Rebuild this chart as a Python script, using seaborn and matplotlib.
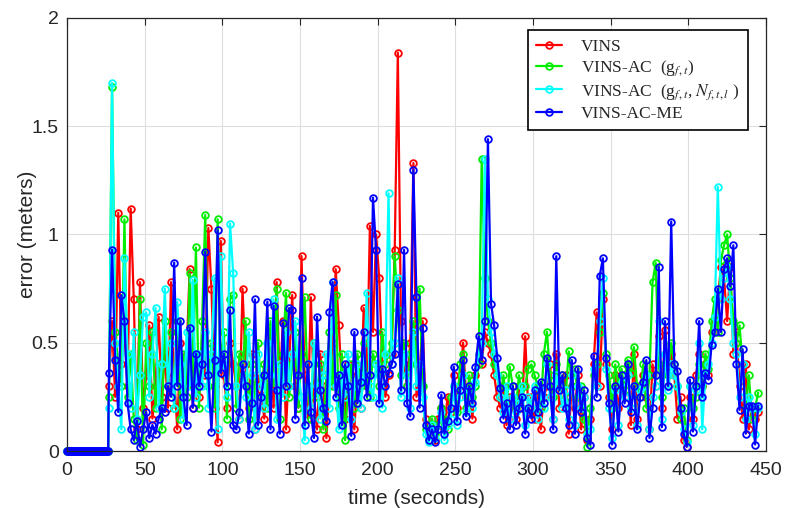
import numpy as np
import pandas as pd
import matplotlib
matplotlib.use("Agg")
import matplotlib.pyplot as plt
import seaborn as sns

# ---------------- data ----------------
methods = ["VINS", "VINS-AC  (g$_{f,t}$)", "VINS-AC  (g$_{f,t}$, $N_{f,t,l}$ )", "VINS-AC-ME"]
colors = ["#ff0000", "#00ee00", "#00ffff", "#0000ff"]

t_init = np.arange(0, 27, 0.5)          # initialisation phase (error = 0)
err_init = [0.0] * len(t_init)
t_run = np.arange(27, 446, 2)            # sampled run times (seconds)

err_vins = [
    0.30, 0.60, 0.25, 1.10, 0.40, 0.55, 0.30, 1.12, 0.70, 0.10,
    0.78, 0.20, 0.35, 0.58, 0.15, 0.30, 0.62, 0.25, 0.45, 0.20,
    0.78, 0.35, 0.10, 0.50, 0.30, 0.45, 0.84, 0.20, 0.40, 0.25,
    0.45, 0.35, 1.03, 0.75, 0.30, 0.04, 0.97, 0.35, 0.20, 0.50,
    0.40, 0.30, 0.15, 0.75, 0.40, 0.20, 0.45, 0.10, 0.35, 0.28,
    0.15, 0.40, 0.55, 0.20, 0.78, 0.30, 0.60, 0.10, 0.40, 0.72,
    0.30, 0.20, 0.90, 0.35, 0.15, 0.71, 0.25, 0.10, 0.45, 0.30,
    0.06, 0.30, 0.50, 0.84, 0.58, 0.30, 0.15, 0.40, 0.25, 0.10,
    0.35, 0.20, 0.66, 0.30, 1.04, 0.55, 1.00, 0.80, 0.40, 0.25,
    0.35, 0.45, 0.93, 1.84, 0.60, 0.40, 0.30, 0.50, 1.33, 0.25,
    0.35, 0.60, 0.15, 0.08, 0.12, 0.05, 0.15, 0.20, 0.10, 0.25,
    0.18, 0.35, 0.20, 0.30, 0.50, 0.25, 0.30, 0.15, 0.35, 0.45,
    0.40, 0.55, 0.50, 0.45, 0.35, 0.25, 0.20, 0.30, 0.12, 0.25,
    0.20, 0.15, 0.30, 0.20, 0.53, 0.18, 0.25, 0.15, 0.30, 0.10,
    0.25, 0.30, 0.40, 0.15, 0.45, 0.20, 0.30, 0.35, 0.08, 0.30,
    0.20, 0.35, 0.10, 0.25, 0.05, 0.15, 0.40, 0.64, 0.30, 0.70,
    0.40, 0.25, 0.10, 0.35, 0.20, 0.30, 0.25, 0.40, 0.12, 0.45,
    0.15, 0.30, 0.35, 0.25, 0.10, 0.40, 0.30, 0.53, 0.20, 0.56,
    0.30, 0.45, 0.35, 0.15, 0.25, 0.05, 0.02, 0.25, 0.15, 0.35,
    0.45, 0.30, 0.40, 0.35, 0.55, 0.60, 0.70, 0.85, 0.80, 0.60,
    0.85, 0.45, 0.55, 0.30, 0.15, 0.40, 0.10, 0.20, 0.15, 0.18,
]

err_vins_ac = [
    0.25, 1.68, 0.55, 0.40, 0.30, 1.07, 0.25, 0.45, 0.15, 0.05,
    0.70, 0.03, 0.50, 0.30, 0.55, 0.20, 0.40, 0.10, 0.60, 0.30,
    0.55, 0.20, 0.60, 0.15, 0.45, 0.25, 0.82, 0.30, 0.94, 0.20,
    0.60, 1.09, 0.30, 0.50, 0.20, 1.07, 0.40, 0.55, 0.15, 0.70,
    0.72, 0.20, 0.45, 0.35, 0.60, 0.15, 0.40, 0.25, 0.50, 0.30,
    0.40, 0.20, 0.60, 0.30, 0.75, 0.15, 0.45, 0.73, 0.25, 0.40,
    0.55, 0.20, 0.45, 0.71, 0.30, 0.15, 0.50, 0.25, 0.40, 0.10,
    0.35, 0.55, 0.30, 0.72, 0.20, 0.45, 0.05, 0.30, 0.40, 0.20,
    0.45, 0.30, 0.50, 0.35, 0.25, 0.45, 0.40, 0.30, 0.55, 0.40,
    0.45, 0.50, 0.90, 0.65, 0.35, 0.50, 0.30, 0.45, 0.60, 0.40,
    0.75, 0.30, 0.10, 0.05, 0.15, 0.08, 0.12, 0.20, 0.15, 0.10,
    0.25, 0.30, 0.18, 0.40, 0.45, 0.20, 0.35, 0.25, 0.30, 0.40,
    1.35, 0.80, 0.60, 0.50, 0.40, 0.35, 0.25, 0.35, 0.20, 0.39,
    0.30, 0.20, 0.35, 0.25, 0.30, 0.38, 0.40, 0.35, 0.30, 0.20,
    0.45, 0.55, 0.35, 0.25, 0.40, 0.30, 0.35, 0.25, 0.46, 0.30,
    0.38, 0.25, 0.30, 0.15, 0.02, 0.20, 0.35, 0.40, 0.55, 0.73,
    0.45, 0.35, 0.20, 0.40, 0.30, 0.38, 0.28, 0.42, 0.36, 0.48,
    0.30, 0.25, 0.40, 0.20, 0.35, 0.78, 0.87, 0.40, 0.25, 0.45,
    0.35, 0.50, 0.40, 0.30, 0.15, 0.20, 0.05, 0.30, 0.20, 0.25,
    0.40, 0.30, 0.45, 0.38, 0.60, 0.70, 0.55, 0.88, 0.95, 1.00,
    0.80, 0.60, 0.50, 0.58, 0.40, 0.20, 0.35, 0.15, 0.20, 0.27,
]

err_vins_ac_n = [
    0.20, 1.70, 0.50, 0.30, 0.10, 0.89, 0.45, 0.20, 0.55, 0.15,
    0.35, 0.62, 0.64, 0.25, 0.45, 0.66, 0.20, 0.40, 0.75, 0.30,
    0.50, 0.20, 0.69, 0.40, 0.15, 0.55, 0.30, 0.79, 0.25, 0.45,
    0.30, 0.55, 0.20, 0.45, 0.80, 0.10, 0.90, 0.40, 0.25, 1.05,
    0.82, 0.30, 0.15, 0.40, 0.25, 0.55, 0.35, 0.10, 0.45, 0.30,
    0.20, 0.50, 0.35, 0.70, 0.15, 0.40, 0.25, 0.55, 0.30, 0.45,
    0.60, 0.35, 0.25, 0.05, 0.40, 0.20, 0.50, 0.30, 0.15, 0.35,
    0.45, 0.20, 0.78, 0.30, 0.10, 0.35, 0.25, 0.45, 0.15, 0.30,
    0.40, 0.20, 0.35, 0.73, 0.30, 0.25, 0.40, 0.35, 0.20, 0.45,
    1.19, 0.40, 0.50, 0.80, 0.25, 0.45, 0.35, 0.20, 0.55, 0.30,
    0.40, 0.25, 0.08, 0.04, 0.12, 0.06, 0.10, 0.18, 0.05, 0.12,
    0.15, 0.30, 0.12, 0.25, 0.35, 0.18, 0.28, 0.20, 0.32, 0.45,
    0.50, 1.35, 0.70, 0.55, 0.45, 0.35, 0.25, 0.18, 0.30, 0.15,
    0.25, 0.18, 0.22, 0.30, 0.12, 0.25, 0.20, 0.30, 0.15, 0.28,
    0.20, 0.40, 0.25, 0.15, 0.35, 0.30, 0.20, 0.28, 0.15, 0.35,
    0.12, 0.30, 0.20, 0.25, 0.08, 0.10, 0.38, 0.30, 0.60, 0.80,
    0.38, 0.20, 0.06, 0.28, 0.12, 0.32, 0.25, 0.35, 0.20, 0.30,
    0.12, 0.28, 0.30, 0.35, 0.10, 0.25, 0.30, 0.60, 0.15, 0.45,
    0.28, 0.40, 0.35, 0.30, 0.18, 0.10, 0.04, 0.30, 0.12, 0.28,
    0.50, 0.10, 0.35, 0.40, 0.50, 0.62, 1.22, 0.70, 0.80, 0.85,
    0.70, 0.50, 0.45, 0.25, 0.40, 0.15, 0.25, 0.20, 0.08, 0.20,
]

err_vins_ac_me = [
    0.36, 0.93, 0.42, 0.18, 0.72, 0.60, 0.22, 0.10, 0.05, 0.14,
    0.02, 0.10, 0.18, 0.06, 0.12, 0.08, 0.15, 0.20, 0.18, 0.30,
    0.25, 0.87, 0.30, 0.60, 0.25, 0.12, 0.57, 0.20, 0.45, 0.30,
    0.40, 0.92, 0.35, 0.09, 0.42, 1.02, 0.36, 0.45, 0.30, 0.65,
    0.12, 0.10, 0.18, 0.40, 0.30, 0.08, 0.22, 0.70, 0.12, 0.25,
    0.35, 0.69, 0.10, 0.67, 0.28, 0.08, 0.59, 0.30, 0.66, 0.65,
    0.15, 0.35, 0.80, 0.12, 0.40, 0.18, 0.06, 0.62, 0.28, 0.20,
    0.14, 0.64, 0.78, 0.25, 0.35, 0.12, 0.40, 0.30, 0.07, 0.55,
    0.22, 0.32, 0.55, 0.25, 0.35, 1.17, 0.93, 0.22, 0.38, 0.30,
    0.36, 0.40, 0.45, 0.77, 0.28, 0.93, 0.22, 0.16, 1.30, 0.71,
    0.20, 0.57, 0.12, 0.05, 0.10, 0.04, 0.10, 0.26, 0.08, 0.14,
    0.20, 0.39, 0.14, 0.28, 0.42, 0.16, 0.30, 0.22, 0.39, 0.53,
    0.42, 0.60, 1.44, 0.68, 0.58, 0.43, 0.29, 0.15, 0.22, 0.10,
    0.30, 0.12, 0.20, 0.25, 0.08, 0.20, 0.15, 0.28, 0.18, 0.32,
    0.22, 0.43, 0.30, 0.10, 0.90, 0.28, 0.35, 0.20, 0.12, 0.42,
    0.08, 0.38, 0.18, 0.28, 0.06, 0.03, 0.44, 0.25, 0.81, 0.89,
    0.43, 0.22, 0.03, 0.30, 0.09, 0.35, 0.22, 0.40, 0.18, 0.30,
    0.10, 0.25, 0.32, 0.42, 0.06, 0.20, 0.35, 0.85, 0.11, 0.60,
    0.30, 1.06, 0.40, 0.37, 0.20, 0.08, 0.02, 0.33, 0.09, 0.30,
    0.60, 0.25, 0.36, 0.33, 0.49, 0.55, 0.75, 0.55, 0.84, 0.89,
    0.76, 0.95, 0.40, 0.19, 0.47, 0.08, 0.21, 0.21, 0.03, 0.21,
]

x_ticks = [0, 50, 100, 150, 200, 250, 300, 350, 400, 450]
y_ticks = [0, 0.5, 1, 1.5, 2]
y_tick_labels = ["0", "0.5", "1", "1.5", "2"]

# ---------------- long-form table ----------------
series = [err_vins, err_vins_ac, err_vins_ac_n, err_vins_ac_me]
frames = []
for name, vals in zip(methods, series):
    t = np.concatenate([t_init, t_run])
    e = np.concatenate([err_init, vals])
    frames.append(pd.DataFrame({"time": t, "error": e, "method": name}))
df = pd.concat(frames, ignore_index=True)

# ---------------- plot ----------------
sns.set_theme(style="white")
plt.rcParams["font.family"] = ["Liberation Sans", "DejaVu Sans"]
plt.rcParams["mathtext.fontset"] = "stix"

fig = plt.figure(figsize=(7.89, 5.08), dpi=100)
ax = fig.add_axes([0.0849, 0.1122, 0.8859, 0.8524])

sns.lineplot(
    data=df, x="time", y="error", hue="method", hue_order=methods,
    palette=colors, estimator=None, sort=False, legend=False, ax=ax,
    marker="o", markersize=4.8, markerfacecolor="none", markeredgewidth=1.3,
    linewidth=1.6, clip_on=False,
)
for ln, c in zip(ax.lines, colors):
    ln.set_markeredgecolor(c)

ax.set_xlim(0, 450)
ax.set_ylim(0, 2)
ax.set_xticks(x_ticks)
ax.set_yticks(y_ticks)
ax.set_yticklabels(y_tick_labels)
ax.grid(True, color="#dedede", linewidth=0.8)
ax.set_axisbelow(True)
ax.tick_params(direction="in", length=5, width=0.8, top=True, right=True,
               labelsize=14, colors="#262626")
ax.tick_params(axis="x", pad=8)
ax.tick_params(axis="y", pad=6)
for sp in ax.spines.values():
    sp.set_visible(True)
    sp.set_color("#262626")
    sp.set_linewidth(0.9)

ax.set_xlabel("time (seconds)", fontsize=15, color="#262626", labelpad=7)
ax.set_ylabel("error (meters)", fontsize=15, color="#262626", labelpad=-4)

leg = ax.legend(
    handles=ax.lines[:4], labels=methods, loc="upper right",
    bbox_to_anchor=(0.974, 0.972), borderaxespad=0, frameon=True,
    fancybox=False, framealpha=1, edgecolor="black",
    prop={"family": "Liberation Serif", "size": 12.5},
    handlelength=1.5, handletextpad=1.05, labelspacing=0.22, borderpad=0.5,
)
leg.get_frame().set_linewidth(1.2)

fig.savefig("out.png", dpi=100)
